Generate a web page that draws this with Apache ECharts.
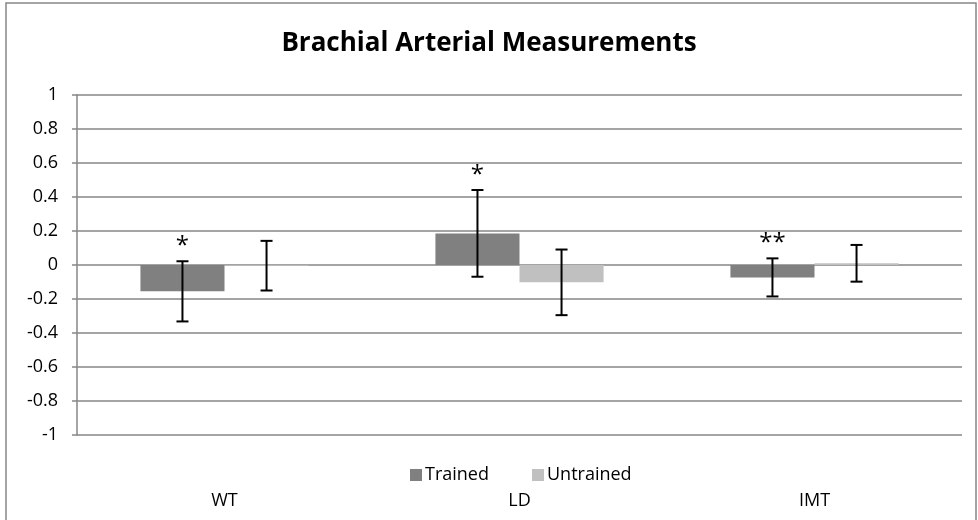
<!DOCTYPE html>
<html>
<head>
<meta charset="utf-8">
<script src="https://cdn.jsdelivr.net/npm/echarts@6/dist/echarts.min.js"></script>
<style>
html,body{margin:0;padding:0;background:#fff;}
#chart{width:978px;height:520px;}
</style>
</head>
<body>
<div id="chart"></div>
<script>
const categories = ['WT', 'LD', 'IMT'];
const trainedMean = [-0.155, 0.186, -0.073];
const trainedErr = [0.177, 0.255, 0.112];
const untrainedMean = [-0.004, -0.102, 0.010];
const untrainedErr = [0.146, 0.193, 0.108];
const sigTrained = ['*', '*', '**'];
const sigUntrained = ['', '', ''];
const yTicks = [-1, -0.8, -0.6, -0.4, -0.2, 0, 0.2, 0.4, 0.6, 0.8, 1];

const FONT = 'Open Sans';
const chart = echarts.init(document.getElementById('chart'));

function errData(mean, err, sig) {
  return mean.map((m, i) => [i, m - err[i], m + err[i], sig[i]]);
}

function makeErrRender(offsetFrac) {
  return function (params, api) {
    const cat = api.value(0);
    const lo = api.value(1), hi = api.value(2);
    const band = api.size([1, 0])[0];
    const pHi = api.coord([cat, hi]);
    const pLo = api.coord([cat, lo]);
    const x = pHi[0] + offsetFrac * band;
    const cap = 6;
    const style = { stroke: '#000', lineWidth: 2 };
    const label = (offsetFrac < 0 ? sigTrained : sigUntrained)[params.dataIndex];
    const children = [
      { type: 'line', shape: { x1: x, y1: pHi[1], x2: x, y2: pLo[1] }, style },
      { type: 'line', shape: { x1: x - cap, y1: pHi[1], x2: x + cap, y2: pHi[1] }, style },
      { type: 'line', shape: { x1: x - cap, y1: pLo[1], x2: x + cap, y2: pLo[1] }, style }
    ];
    if (label) {
      children.push({
        type: 'text',
        style: {
          text: label, x: x, y: pHi[1] - 3,
          align: 'center', verticalAlign: 'bottom',
          font: '24px "' + FONT + '"', fill: '#000'
        }
      });
    }
    return { type: 'group', children };
  };
}

chart.setOption({
  animation: false,
  backgroundColor: '#fff',
  title: {
    text: 'Brachial Arterial Measurements',
    left: 'center', top: 26,
    textStyle: { fontFamily: FONT, fontWeight: 'bold', fontSize: 26, color: '#000' }
  },
  legend: {
    data: ['Trained', 'Untrained'],
    left: 405, top: 461,
    itemWidth: 12, itemHeight: 12, itemGap: 43,
    icon: 'rect',
    textStyle: { fontFamily: FONT, fontSize: 18, color: '#000', padding: [0, 0, 0, -2] }
  },
  grid: { left: 77, right: 16, top: 95, bottom: 85, containLabel: false },
  xAxis: {
    type: 'category',
    data: categories,
    axisLine: { show: false },
    axisTick: { show: false },
    axisLabel: { fontFamily: FONT, fontSize: 18, color: '#000', margin: 57 },
    position: 'bottom'
  },
  yAxis: {
    type: 'value',
    min: -1, max: 1, interval: 0.2,
    axisLine: { show: true, lineStyle: { color: '#868686', width: 1.5 } },
    axisTick: { show: true, length: 5, lineStyle: { color: '#868686', width: 1.5 } },
    axisLabel: {
      fontFamily: FONT, fontSize: 18, color: '#000', margin: 19,
      formatter: v => String(Math.round(v * 10) / 10)
    },
    splitLine: { show: true, lineStyle: { color: '#868686', width: 1.5 } }
  },
  series: [
    {
      name: 'Trained', type: 'bar', data: trainedMean,
      itemStyle: { color: '#808080' },
      barGap: '0%', barCategoryGap: '43%'
    },
    {
      name: 'Untrained', type: 'bar', data: untrainedMean,
      itemStyle: { color: '#c0c0c0' },
      barGap: '0%', barCategoryGap: '43%'
    },
    {
      type: 'custom', name: 'TrainedErr',
      renderItem: makeErrRender(-0.1425),
      data: errData(trainedMean, trainedErr, sigTrained),
      encode: { x: 0, y: [1, 2] }, z: 10, silent: true
    },
    {
      type: 'custom', name: 'UntrainedErr',
      renderItem: makeErrRender(0.1425),
      data: errData(untrainedMean, untrainedErr, sigUntrained),
      encode: { x: 0, y: [1, 2] }, z: 10, silent: true
    }
  ],
  graphic: [{
    type: 'rect', silent: true,
    shape: { x: 6, y: 3, width: 970, height: 520 },
    style: { fill: 'none', stroke: '#868686', lineWidth: 1.5 }
  }]
});
</script>
</body>
</html>
